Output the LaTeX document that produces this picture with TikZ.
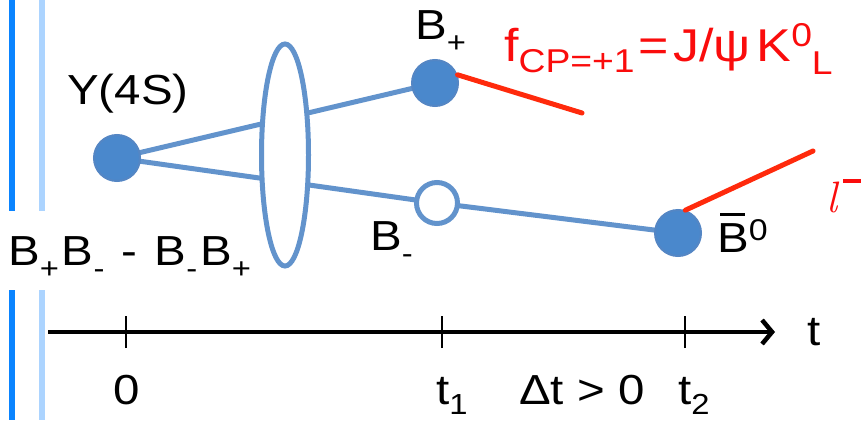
\documentclass[tikz,border=0pt]{standalone}
\usepackage{fontspec}
\setmainfont[FakeStretch=1.13]{Liberation Sans}
\usetikzlibrary{arrows.meta,shapes.geometric}
\definecolor{barblue}{RGB}{10,132,255}
\definecolor{barlight}{RGB}{172,212,255}
\definecolor{linkblue}{RGB}{98,147,204}
\definecolor{ballfill}{RGB}{74,136,204}
\definecolor{ballrim}{RGB}{84,134,196}
\definecolor{redline}{RGB}{255,42,12}
\definecolor{redtext}{RGB}{250,12,12}
\pgfdeclarelayer{bg}\pgfsetlayers{bg,main}
\newcommand\lowsub[1]{\raisebox{-13pt}{\fontsize{29}{29}\selectfont #1}}
\newcommand\highsup[1]{\raisebox{12pt}{\fontsize{30}{30}\selectfont #1}}
\begin{document}
\begin{tikzpicture}[x=1pt,y=-1pt,
  ball/.style={circle,fill=ballfill,draw=ballrim,line width=2pt,minimum size=46pt,inner sep=0pt},
  openball/.style={circle,fill=white,draw=linkblue,line width=5pt,minimum size=41pt,inner sep=0pt},
  link/.style={draw=linkblue,line width=5pt},
  decay/.style={draw=redline,line width=5pt,line cap=round},
  lbl/.style={font=\fontsize{42}{50}\selectfont,inner sep=0pt,anchor=base west},
  redlbl/.style={font=\fontsize{46}{50}\selectfont,text=redtext,inner sep=0pt,anchor=base west},
  tick/.style={draw=black,line width=2.4pt},
  axis/.style={draw=black,line width=3.3pt,-{Straight Barb[length=10pt,width=24pt,line width=4.5pt]}},
  bar/.style={line width=6pt}]
\useasboundingbox (0,0) rectangle (864,420);
\clip (0,0) rectangle (864,420);
% side bars
\draw[bar,barblue] (12,0) -- (12,211) (12,290) -- (12,420);
\draw[bar,barlight] (42,0) -- (42,211) (42,290) -- (42,420);
% particles
\node[ball] (Y) at (117,158) {};
\node[ball] (Bp) at (435,83) {};
\node[openball] (Bm) at (437,203) {};
\node[ball] (B0) at (678,233) {};
\node[ellipse,draw=linkblue,fill=white,line width=5pt,minimum width=47pt,minimum height=222pt,inner sep=0pt] (ell) at (285,155) {};
\begin{pgfonlayer}{bg}
\draw[link] (Y.center) -- (Bp.center);
\draw[link] (Y.center) -- (Bm.center);
\draw[link] (Bm.center) -- (B0.center);
\end{pgfonlayer}
% decays
\coordinate (fend) at (582,113);
\coordinate (lend) at (813,151);
\draw[decay] (Bp.20) -- (fend);
\draw[decay] (B0.72) -- (lend);
% labels
\node[lbl] (Ylab) at (67,104) {Y(4S)};
\node[lbl] (Bplab) at (415,40) {B\lowsub{+}};
\node[lbl] (Bmlab) at (370,250) {B\lowsub{-}};
\node[lbl] (B0lab) at (717,252) {\makebox[0pt][l]{\hspace{3pt}\rule[36pt]{25pt}{2.6pt}}B\highsup{0}};
\node[lbl] (state) at (8,265) {B\lowsub{+}\hspace{3pt}B\lowsub{-}\hspace{4pt} - \hspace{4pt}B\lowsub{-}\hspace{3pt}B\lowsub{+}};
\node[redlbl] (fcp) at (504,62) {f\raisebox{-11pt}{\fontsize{33}{33}\selectfont CP=+1}\hspace{4pt}=\hspace{4pt}J/ψ\hspace{6pt}K\raisebox{15pt}{\fontsize{33}{33}\selectfont 0}\raisebox{-13pt}{\fontsize{33}{33}\selectfont L}};
\node[text=redtext,inner sep=0pt,anchor=base west,font=\fontsize{44}{44}\fontfamily{lmr}\itshape\selectfont] (lep) at (826,212) {l\hspace{6pt}\raisebox{29pt}{\rule{18pt}{4pt}}};
% time axis
\coordinate (ax0) at (48,332);
\coordinate (ax1) at (775,332);
\draw[axis] (ax0) -- (ax1);
\coordinate (t0) at (126,332);
\coordinate (t1) at (442,332);
\coordinate (t2) at (685,332);
\draw[tick] ([yshift=-16pt]t0) -- ([yshift=16pt]t0);
\draw[tick] ([yshift=-16pt]t1) -- ([yshift=16pt]t1);
\draw[tick] ([yshift=-16pt]t2) -- ([yshift=16pt]t2);
\node[lbl] (tlab) at (807,345) {t};
\node[lbl] (zero) at (113,404) {0};
\node[lbl] (t1lab) at (436,404) {t\raisebox{-10pt}{\fontsize{29}{29}\selectfont 1}};
\node[lbl] (dt) at (519,404) {Δt > 0};
\node[lbl] (t2lab) at (678,404) {t\raisebox{-10pt}{\fontsize{29}{29}\selectfont 2}};
\end{tikzpicture}
\end{document}
